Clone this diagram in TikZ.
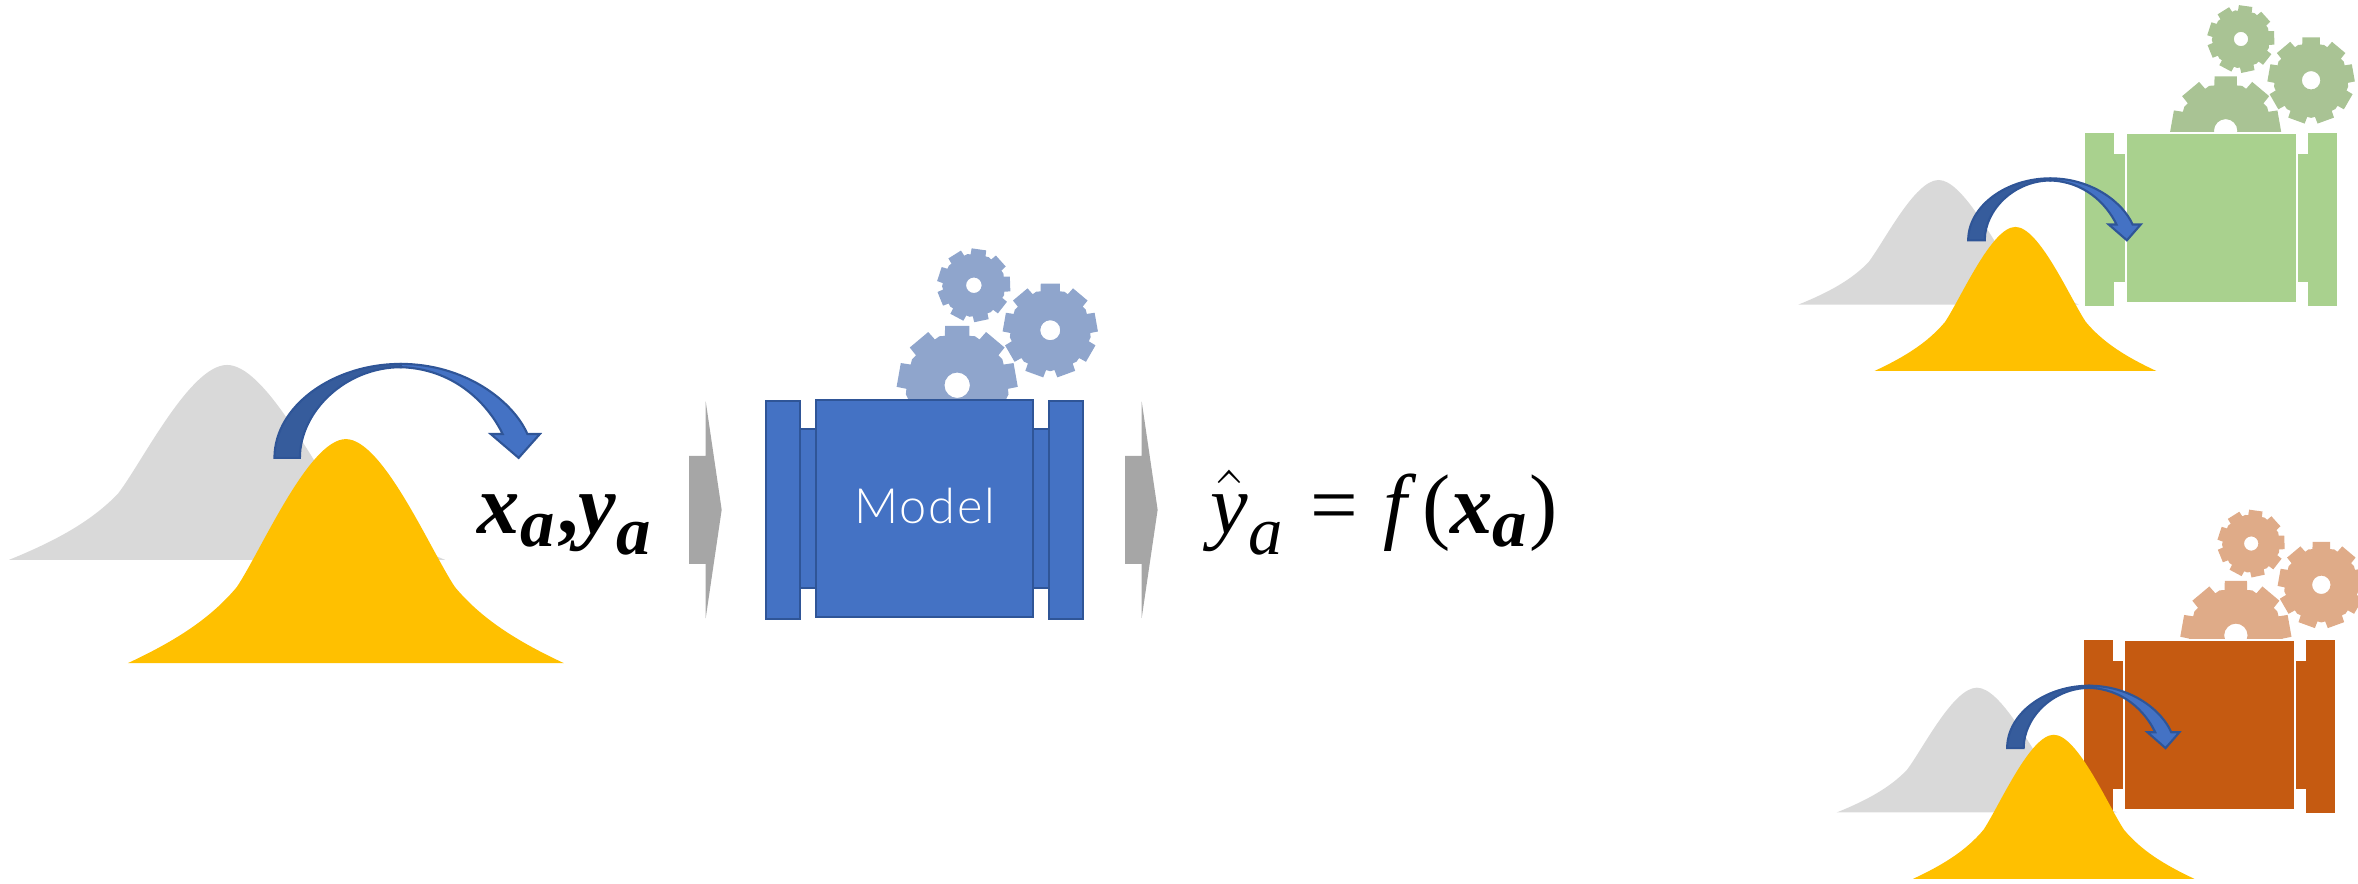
\documentclass[tikz,border=0pt]{standalone}
\usepackage{amsmath}
\usepackage{amssymb}
\usepackage{fontspec}
\usepackage{tikz}
\setmainfont{Liberation Serif}
\newfontfamily\modelfont[LetterSpace=4]{Lato Light}
\DeclareMathSizes{16}{16}{13}{10}
\definecolor{modelblue}{RGB}{68,114,196}
\definecolor{edgeblue}{RGB}{47,85,151}
\definecolor{shadeblue}{RGB}{54,92,156}
\definecolor{gearblue}{RGB}{143,165,204}
\definecolor{modelgreen}{RGB}{169,209,142}
\definecolor{geargreen}{RGB}{169,195,148}
\definecolor{modelorange}{RGB}{197,90,17}
\definecolor{gearorange}{RGB}{223,171,136}
\definecolor{bellgold}{RGB}{255,192,0}
\definecolor{bellgray}{RGB}{217,217,217}
\definecolor{flowgray}{RGB}{166,166,166}

\begin{document}
\begin{tikzpicture}[x=0.01cm, y=-0.01cm]
\path[use as bounding box, clip] (0,0) rectangle (1568,587.2);

% Gears behind the boxes
\foreach \gx/\gy/\s/\col in {636.5/256.2/1/gearblue, 1480/87/0.918/geargreen, 1486.8/422.5/0.918/gearorange} {
  \foreach \dx/\dy/\R/\rot in {0/0/40.3/-90, 61.9/-36.6/31.7/-90, 11.1/-66.5/24.6/-82} {
    \begin{scope}[shift={(\gx,\gy)}, scale=\s, shift={(\dx,\dy)}]
      \fill[fill=\col, even odd rule] (\rot-14:.84*\R)
        \foreach \t in {0,40,...,320} {
          -- (\rot+\t-14:.84*\R) -- (\rot+\t-11.5:\R) -- (\rot+\t+11.5:\R) -- (\rot+\t+14:.84*\R)
          -- (\rot+\t+20:.86*\R)
        } -- cycle (0,0) circle (.21*\R);
    \end{scope}
  }
}

% Model boxes
\foreach \bx/\by/\s/\col/\edge/\mainedge in {509.1/266/1/modelblue/edgeblue/edgeblue, 1387.4/88.4/0.786/modelgreen/modelgreen/white, 1386.2/425.5/0.786/modelorange/modelorange/white} {
  \begin{scope}[shift={(\bx,\by)}, scale=\s, line width=0.4pt]
    \filldraw[fill=\col, draw=\edge] (22.8,19) rectangle (33.4,125.2);
    \filldraw[fill=\col, draw=\edge] (177.9,19) rectangle (188.3,125.2);
    \filldraw[fill=\col, draw=\edge] (0,0.8) rectangle (22.8,145.5);
    \filldraw[fill=\col, draw=\edge] (188.3,0.8) rectangle (211.2,145.5);
    \filldraw[fill=\col, draw=\mainedge] (33.4,0) rectangle (177.9,144.2);
  \end{scope}
}

% Distributions
\foreach \px/\by/\w/\h/\col in {151/372.3/145/129.6/bellgray, 230/441/145/149/bellgold,
    1289.1/202.6/93.3/82.9/bellgray, 1340.2/246.7/93.7/95.8/bellgold,
    1314.6/540.3/93.3/83/bellgray, 1365.7/584.4/93.5/95.8/bellgold} {
  \fill[fill=\col, shift={(\px,\by)}, xscale=\w, yscale=\h]
    (-1,0) .. controls (-.78,-.1) and (-.62,-.2) .. (-.5,-.34)
    .. controls (-.39,-.5) and (-.17,-1) .. (0,-1)
    .. controls (.17,-1) and (.39,-.5) .. (.5,-.34)
    .. controls (.62,-.2) and (.78,-.1) .. (1,0) -- cycle;
}

% Curved shift arrows
\foreach \ax/\ay/\w/\h in {182.5/304.5/176.5/62.5, 1308.8/159.8/114.7/41.2, 1334.7/497.5/114.5/41.5} {
  \begin{scope}[shift={(\ax,\ay)}, xscale=\w, yscale=\h, line width=0.4pt]
    \filldraw[fill=shadeblue, draw=edgeblue] (0,0) .. controls (0,-.55) and (.22,-1) .. (.476,-1)
      -- (.476,-.965) .. controls (.27,-.965) and (.096,-.5) .. (.096,0) -- cycle;
    \filldraw[fill=modelblue, draw=edgeblue] (.476,-1) .. controls (.72,-1) and (.9,-.6) .. (.953,-.254)
      -- (1,-.254) -- (.92,0) -- (.815,-.254) -- (.86,-.254)
      .. controls (.8,-.6) and (.67,-.95) .. (.476,-.965) -- cycle;
  \end{scope}
}

% Gray flow arrows
\foreach \fx in {458.3,748.2} {
  \fill[flowgray] (\fx,303.2) -- ++(11,0) -- ++(0,-36.2) -- ++(10.6,72) -- ++(-10.6,72)
    -- ++(0,-36) -- ++(-11,0) -- cycle;
}

\node[anchor=base, inner sep=0pt] (inputlabel) at (376,354.6)
  {\fontsize{16}{19}\selectfont $\textbf{\textit{x}}_{\textbf{\textit{a}}}\textbf{,}\textbf{\textit{y}}_{\textbf{\textit{a}}}$};
\node[inner sep=0pt, white] (modellabel) at (615,336.4)
  {\fontsize{9.2}{11}\selectfont\modelfont Model};
\node[anchor=base, inner sep=0pt] (predlabel) at (920.5,354.6)
  {\fontsize{16}{19}\selectfont $\hat{\textit{y}}_{\textit{a}}\;\text{=}\;\textit{f}\,\text{(}\textbf{\textit{x}}_{\textbf{\textit{a}}}\text{)}$};

\end{tikzpicture}
\end{document}
